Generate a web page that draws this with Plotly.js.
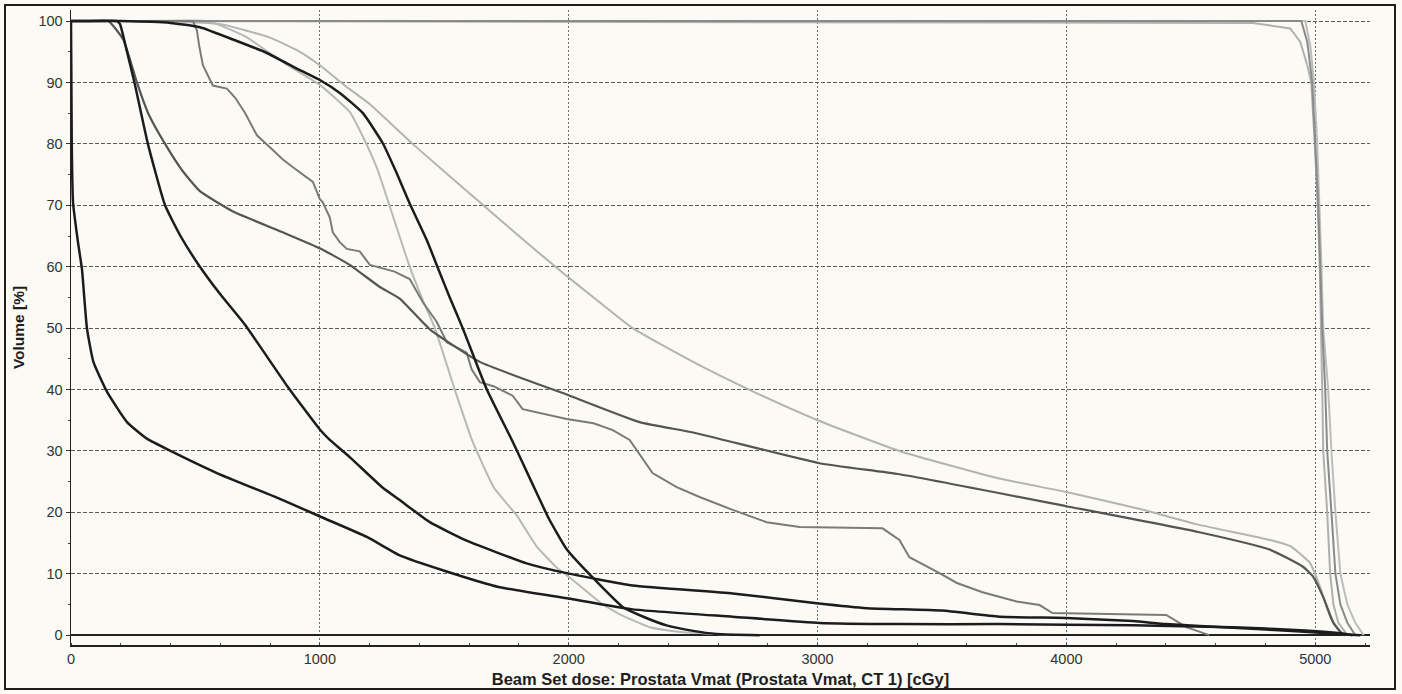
<!DOCTYPE html>
<html>
<head>
<meta charset="utf-8">
<script src="https://cdn.plot.ly/plotly-3.0.1.min.js"></script>
<style>
  html, body { margin: 0; padding: 0; background: #fbfaf5; }
  #wrap { position: relative; width: 1402px; height: 694px; }
  #chart { position: absolute; left: 0; top: 0; width: 1402px; height: 694px; }
  #frame { position: absolute; left: 4px; top: 4px; width: 1388px; height: 682px;
           border: 2px solid #1e1e1e; pointer-events: none; }
</style>
</head>
<body>
<div id="wrap">
  <div id="chart"></div>
  <div id="frame"></div>
</div>
<script>
// ---- Data (dose in cGy, volume in %) ----
const doseA = [0, 3, 8, 28, 44, 64, 90, 145, 225, 305, 400, 586, 851, 1008, 1189, 1321, 1500, 1723, 1992, 2257, 2659, 3008, 3329, 3730, 4268, 4669, 4940, 5100, 5150];
const volA  = [100, 80, 70.5, 64, 59.6, 50, 44.5, 39.6, 34.7, 32, 30, 26.4, 22, 19.2, 16, 13, 10.5, 7.8, 6, 4.2, 3, 2, 1.8, 1.8, 1.6, 1.3, 0.8, 0.3, 0];

const doseB = [0, 100, 185, 197, 225, 255, 309, 378, 440, 518, 600, 700, 870, 1000, 1040, 1120, 1253, 1321, 1442, 1590, 1831, 1992, 2257, 2659, 2996, 3197, 3500, 3730, 4000, 4268, 4400, 4669, 4940, 5100, 5180];
const volB  = [100, 100, 100, 99.5, 95, 90, 80, 70, 65, 60, 55.5, 50.5, 40.5, 33.5, 31.8, 29, 24, 22, 18.4, 15.4, 11.7, 10.1, 8.1, 6.8, 5.2, 4.4, 4, 3, 2.8, 2.3, 1.8, 1.2, 0.6, 0.2, 0];

const doseC = [0, 200, 400, 518, 651, 787, 920, 1000, 1080, 1173, 1253, 1309, 1361, 1430, 1482, 1522, 1574, 1671, 1775, 1850, 1920, 1992, 2096, 2217, 2300, 2393, 2500, 2594, 2767];
const volC  = [100, 100, 99.7, 99, 97, 94.8, 92, 90.4, 88.3, 85, 80.1, 75.2, 70.3, 64.3, 59, 55, 50, 40, 31.5, 25, 19, 14, 9.4, 4.6, 3, 1.6, 0.7, 0.2, 0];

const doseD = [0, 300, 550, 700, 851, 1000, 1120, 1175, 1230, 1273, 1361, 1414, 1462, 1542, 1614, 1700, 1791, 1870, 1952, 2004, 2124, 2200, 2325, 2450, 2594, 2650];
const volD  = [100, 100, 100, 97.5, 93.3, 89.6, 85.2, 81, 76, 70.8, 60, 54.5, 50, 40, 31.5, 24, 19.5, 14.5, 11, 9.4, 5.4, 3.5, 1.3, 0.5, 0.2, 0];

const doseE = [0, 300, 600, 800, 920, 1000, 1100, 1200, 1373, 1500, 1643, 1800, 1976, 2100, 2257, 2500, 2750, 3000, 3329, 3730, 4000, 4300, 4530, 4819, 4900, 4980, 5020, 5060, 5100, 5141];
const volE  = [100, 100, 99.5, 97.3, 95, 92.8, 89.5, 86.5, 80, 75.5, 70.5, 65, 59, 55, 50, 44.5, 39.5, 35, 30, 25.5, 23.3, 20.5, 18, 15.5, 14.5, 11.7, 7.8, 3, 0.5, 0];

const doseF = [0, 80, 150, 210, 250, 265, 310, 378, 450, 518, 651, 851, 1000, 1120, 1241, 1321, 1442, 1643, 2004, 2285, 2500, 3008, 3330, 4000, 4530, 4819, 4952, 4992, 5032, 5073, 5113];
const volF  = [100, 100, 100, 97, 92, 90, 85, 80, 75.5, 72.3, 69, 65.6, 63, 60.3, 56.7, 54.8, 49.8, 44.5, 39, 34.7, 33, 28, 26.2, 21, 16.8, 13.9, 11.1, 9.5, 6.2, 2, 0];

const doseG = [0, 490, 506, 515, 530, 570, 626, 660, 700, 747, 811, 850, 892, 972, 1000, 1012, 1040, 1052, 1080, 1108, 1160, 1201, 1300, 1361, 1414, 1470, 1510, 1590, 1610, 1643, 1700, 1775, 1815, 1900, 1992, 2100, 2177, 2245, 2337, 2434, 2526, 2659, 2795, 2928, 3261, 3329, 3369, 3490, 3560, 3663, 3800, 3892, 3944, 4401, 4482, 4574];
const volG  = [100, 100, 98.5, 96, 92.8, 89.5, 89, 87.5, 85, 81.4, 79, 77.5, 76.2, 73.8, 71, 70.5, 68, 65.6, 64, 62.9, 62.5, 60.3, 59.2, 58, 54.2, 51, 47.7, 46, 43.3, 41.2, 40.5, 39, 36.8, 36, 35.2, 34.5, 33.4, 31.8, 26.4, 24.1, 22.5, 20.4, 18.4, 17.6, 17.4, 15.5, 12.7, 10.1, 8.5, 7, 5.5, 4.9, 3.6, 3.3, 1.3, 0];

const doseP1 = [0, 4944, 4968, 4988, 5000, 5012, 5020, 5028, 5040, 5048, 5065, 5081, 5101, 5129, 5161];
const volP1  = [100, 100, 96.6, 90, 80, 70, 60, 50, 40, 30, 20, 10, 5, 2, 0];

const doseP2 = [0, 4750, 4899, 4940, 4968, 4984, 4998, 5010, 5018, 5024, 5028, 5032, 5048, 5060, 5073, 5093, 5129];
const volP2  = [100, 99.7, 98.8, 96.6, 92.8, 90, 80, 70, 60, 50, 40, 30, 20, 10, 5, 2, 0];

const doseP3 = [0, 4960, 4980, 4995, 5008, 5018, 5025, 5032, 5052, 5065, 5081, 5101, 5129, 5161, 5194];
const volP3  = [100, 100, 96, 90, 80, 70, 60, 50, 40, 30, 20, 10, 5, 2, 0];

const xTicks = [0, 1000, 2000, 3000, 4000, 5000];
const yTicks = [0, 10, 20, 30, 40, 50, 60, 70, 80, 90, 100];

const xTitle = 'Beam Set dose: Prostata Vmat (Prostata Vmat, CT 1) [cGy]';
const yTitle = 'Volume [%]';

// ---- Traces ----
function tr(x, y, color, width, smooth) {
  return { x: x, y: y, type: 'scatter', mode: 'lines',
           line: smooth ? { color: color, width: width, shape: 'spline', smoothing: 0.45 }
                        : { color: color, width: width, shape: 'linear' },
           hoverinfo: 'skip', showlegend: false };
}
const data = [
  tr(doseE, volE, '#b3b3b1', 2, true),
  tr(doseD, volD, '#b8b8b6', 2, true),
  tr(doseP3, volP3, '#bdbdbb', 2, false),
  tr(doseP2, volP2, '#b0b0ae', 2, false),
  tr(doseP1, volP1, '#8a8a88', 2, false),
  tr(doseG, volG, '#7a7a78', 2, false),
  tr(doseF, volF, '#555553', 2.2, true),
  tr(doseA, volA, '#1c1c1c', 2.5, true),
  tr(doseB, volB, '#1c1c1c', 2.5, true),
  tr(doseC, volC, '#1c1c1c', 2.5, true)
];

const tickFont = { family: 'Liberation Sans, Arial, sans-serif', size: 14.5, color: '#333' };
const xTitleFont = { family: 'Liberation Sans, Arial, sans-serif', size: 16.5, color: '#1e1e1e' };
const yTitleFont = { family: 'Liberation Sans, Arial, sans-serif', size: 15.5, color: '#1e1e1e' };

const layout = {
  width: 1402, height: 694,
  paper_bgcolor: 'rgba(0,0,0,0)',
  plot_bgcolor: '#fbfaf5',
  margin: { l: 71, r: 32, t: 10, b: 49 },
  xaxis: {
    range: [0, 5220], tickvals: xTicks, ticktext: xTicks.map(String),
    showgrid: true, gridcolor: '#6a6a6a', griddash: '2px,2px', gridwidth: 1,
    showline: true, linecolor: '#222', linewidth: 1.5,
    ticks: '', 
    zeroline: false, tickfont: tickFont,
    minor: { dtick: 200, tick0: 0, ticks: 'inside', ticklen: 2, tickcolor: '#444', showgrid: false },
    title: { text: '<b>' + xTitle + '</b>', font: xTitleFont, standoff: 7 },
    automargin: false, fixedrange: true
  },
  yaxis: {
    range: [-1.6, 101.8], tickvals: yTicks, ticktext: yTicks.map(String),
    showgrid: true, gridcolor: '#5a5a5a', griddash: '4px,2px', gridwidth: 1,
    showline: true, linecolor: '#222', linewidth: 1.5,
    ticks: 'outside', ticklen: 4, tickcolor: '#333',
    zeroline: true, zerolinecolor: '#222', zerolinewidth: 2,
    tickfont: tickFont,
    minor: { dtick: 5, tick0: 0, ticks: 'outside', ticklen: 2, tickcolor: '#444', showgrid: false },
    title: { text: '<b>' + yTitle + '</b>', font: yTitleFont, standoff: 10 },
    automargin: false, fixedrange: true
  }
};

Plotly.newPlot('chart', data, layout, { displayModeBar: false, staticPlot: true });
</script>
</body>
</html>
